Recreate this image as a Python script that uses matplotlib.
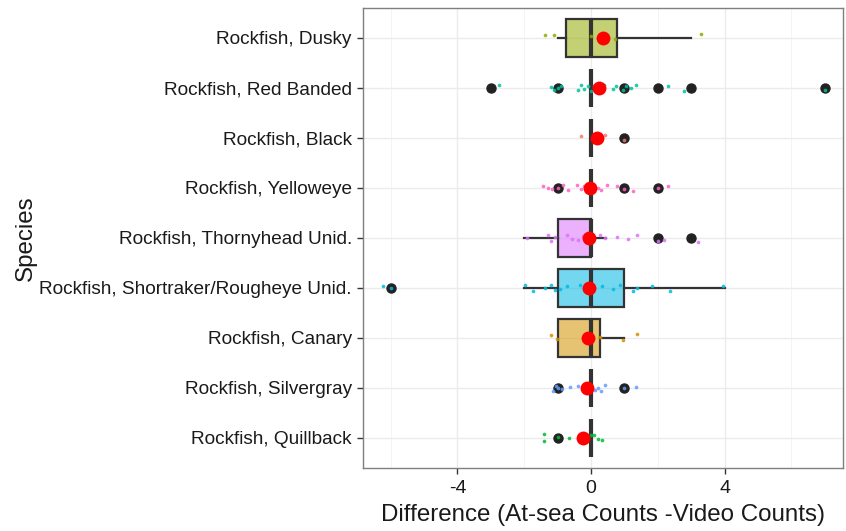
import matplotlib
matplotlib.use("Agg")
import matplotlib.pyplot as plt

plt.rcParams['font.family'] = ['Liberation Sans', 'DejaVu Sans']

# species, bottom to top
species = ["Rockfish, Quillback", "Rockfish, Silvergray", "Rockfish, Canary",
           "Rockfish, Shortraker/Rougheye Unid.", "Rockfish, Thornyhead Unid.",
           "Rockfish, Yelloweye", "Rockfish, Black", "Rockfish, Red Banded",
           "Rockfish, Dusky"]
colors = ["#00BA38", "#619CFF", "#D39200", "#00B9E3", "#DB72FB",
          "#FF61C3", "#F8766D", "#00C19F", "#93AA00"]

q1 = [0, 0, -1, -1, -1, 0, 0, 0, -0.75]
med = [0, 0, 0, 0, 0, 0, 0, 0, 0]
q3 = [0, 0, 0.27, 1, 0, 0, 0, 0, 0.77]
whis_lo = [0, 0, -1, -2, -2, 0, 0, 0, -1]
whis_hi = [0, 0, 1, 4, 0.45, 0, 0, 0, 3]
means = [-0.24, -0.13, -0.1, -0.05, -0.05, -0.03, 0.17, 0.23, 0.35]
outliers = [[-1], [-1, 1], [], [-6], [2, 3], [-1, 1, 2], [1],
            [-3, -1, 1, 2, 3, 7], []]

jitter_x = [
    [-1.41, -1.41, -1.0, -0.66, -0.33, -0.2, 0.0, 0.1, 0.2, 0.33],
    [-1.13, -1.05, -1.0, -0.87, -0.63, -0.39, -0.24, -0.1, 0.12, 0.2, 0.3, 0.42, 1.0, 1.35],
    [-1.2, -1.03, 0.27, 0.97, 1.38],
    [-6.22, -6.0, -1.98, -1.74, -1.38, -1.2, -1.08, -0.93, -0.72, -0.33, -0.2, -0.1, 0.06,
     0.33, 0.66, 0.87, 1.26, 1.38, 1.83, 2.36, 3.95],
    [-1.92, -1.3, -1.2, -1.08, -0.72, -0.57, -0.39, -0.25, -0.1, 0.05, 0.27, 0.42, 0.78,
     1.1, 1.38, 2.0, 2.2, 3.2],
    [-1.43, -1.3, -1.17, -1.0, -0.84, -0.69, -0.42, -0.3, -0.2, -0.1, 0.1, 0.2, 0.3,
     0.48, 0.78, 1.0, 1.26, 2.0, 2.3],
    [-0.3, 0.2, 0.42, 1.0],
    [-2.75, -1.2, -1.1, -1.0, -0.9, -0.4, -0.3, -0.2, -0.1, 0.0, 0.1, 0.2, 0.3, 0.4,
     0.65, 0.75, 0.95, 1.05, 1.2, 1.35, 2.3, 2.8, 7.0],
    [-1.37, -1.1, 0.0, 0.72, 3.3],
]
jitter_dy = [
    [0.07, -0.07, 0.02, 0.0, 0.03, -0.04, 0.05, 0.06, -0.02, -0.05],
    [-0.06, 0.03, 0.0, -0.02, 0.02, 0.04, -0.03, 0.05, -0.05, 0.0, -0.07, 0.05, 0.0, 0.02],
    [0.05, -0.02, 0.02, -0.05, 0.07],
    [0.04, 0.0, 0.06, -0.07, 0.0, 0.05, -0.04, -0.02, 0.03, 0.06, -0.05, 0.02, -0.03,
     0.04, -0.02, 0.05, -0.07, 0.0, 0.03, -0.06, 0.04],
    [0.0, 0.05, -0.06, 0.02, 0.05, -0.03, -0.05, 0.04, 0.01, -0.04, 0.06, 0.0, 0.02,
     -0.03, 0.05, -0.07, -0.05, -0.08],
    [0.04, 0.0, -0.03, 0.0, 0.06, -0.05, 0.05, -0.02, 0.03, -0.06, 0.06, 0.0, -0.04,
     0.05, 0.03, -0.02, -0.07, 0.0, 0.04],
    [0.03, -0.04, 0.06, -0.05],
    [0.06, 0.02, -0.05, 0.0, 0.04, -0.04, 0.05, -0.02, 0.03, -0.06, 0.04, 0.0, -0.03,
     0.05, -0.02, 0.03, -0.05, 0.04, 0.0, 0.05, 0.04, -0.07, -0.05],
    [0.06, 0.06, 0.03, -0.03, 0.07],
]

fig = plt.figure(figsize=(8.46, 5.31), dpi=100)
ax = fig.add_axes([0.429, 0.119, 0.5675, 0.866])

ypos = list(range(1, len(species) + 1))

# grid (theme_bw style)
for v in [-6, -2, 2, 6]:
    ax.axvline(v, color="#f2f2f2", lw=0.6, zorder=0)
for v in [-4, 0, 4]:
    ax.axvline(v, color="#ebebeb", lw=1.0, zorder=0)
for y in ypos:
    ax.axhline(y, color="#ebebeb", lw=1.0, zorder=0)

stats = []
for i in range(len(species)):
    stats.append(dict(q1=q1[i], med=med[i], q3=q3[i], whislo=whis_lo[i],
                      whishi=whis_hi[i], fliers=outliers[i], label=species[i]))

bp = ax.bxp(stats, positions=ypos, vert=False, widths=0.75, patch_artist=True,
            showcaps=False, showfliers=True,
            boxprops=dict(edgecolor="#333333", linewidth=1.6),
            whiskerprops=dict(color="#333333", linewidth=1.6),
            medianprops=dict(color="#333333", linewidth=3.0),
            flierprops=dict(marker="o", markerfacecolor="#222222",
                            markeredgecolor="#222222", markersize=6.5))
for patch, c in zip(bp["boxes"], colors):
    r, g, b = matplotlib.colors.to_rgb(c)
    patch.set_facecolor((r, g, b, 0.55))
for art in bp["boxes"] + bp["whiskers"] + bp["medians"] + bp["fliers"]:
    art.set_zorder(2)

for i in range(len(species)):
    ys = [ypos[i] + d for d in jitter_dy[i]]
    ax.scatter(jitter_x[i], ys, s=7, color=colors[i], alpha=0.85,
               linewidths=0, zorder=3)

ax.scatter(means, ypos, s=100, color="#ff0000", linewidths=0, zorder=4)

ax.set_xlim(-6.83, 7.55)
ax.set_ylim(0.4, 9.6)
ax.set_xticks([-4, 0, 4])
ax.set_xticklabels(["-4", "0", "4"])
ax.set_yticks(ypos)
ax.set_yticklabels(species)
ax.tick_params(axis="both", length=4, width=1, color="#333333",
               labelcolor="#1a1a1a")
ax.tick_params(axis="y", labelsize=13.7, pad=4)
ax.tick_params(axis="x", labelsize=14, pad=5)
for sp in ax.spines.values():
    sp.set_color("#7f7f7f")
    sp.set_linewidth(1.0)

ax.set_xlabel("Difference (At-sea Counts -Video Counts)", fontsize=17.4,
              color="#1a1a1a", labelpad=5)
ax.set_ylabel("Species", fontsize=17.4, color="#1a1a1a", labelpad=2)

fig.savefig("out.png", dpi=100)
